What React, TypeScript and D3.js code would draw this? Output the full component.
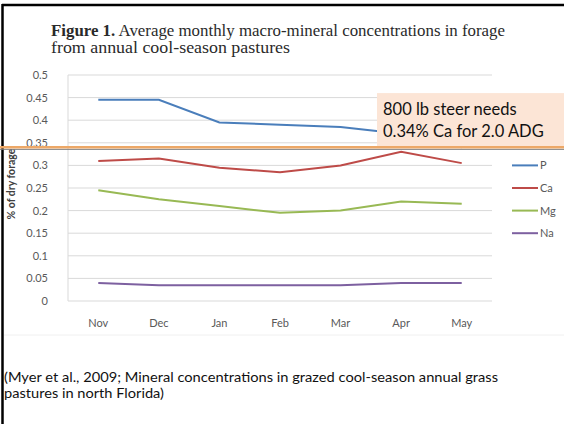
import React from "react";
import * as d3 from "d3";

const months = ["Nov", "Dec", "Jan", "Feb", "Mar", "Apr", "May"];
const pValues = [0.445, 0.445, 0.395, 0.39, 0.385, 0.37, 0.34];
const caValues = [0.31, 0.315, 0.295, 0.285, 0.3, 0.33, 0.305];
const mgValues = [0.245, 0.225, 0.21, 0.195, 0.2, 0.22, 0.215];
const naValues = [0.04, 0.035, 0.035, 0.035, 0.035, 0.04, 0.04];
const seriesNames = ["P", "Ca", "Mg", "Na"];
const seriesColors = ["#4A7EBB", "#BE4B48", "#98B954", "#7D60A0"];
const yTicks = [0, 0.05, 0.1, 0.15, 0.2, 0.25, 0.3, 0.35, 0.4, 0.45, 0.5];
const requirement = 0.34;
const titleBold = "Figure 1.";
const titleRest = " Average monthly macro-mineral  concentrations in forage";
const titleLine2 = "from annual cool-season pastures";
const boxLines = ["800 lb steer needs", "0.34% Ca for 2.0 ADG"];
const citation = [
  "(Myer et al., 2009; Mineral concentrations in grazed cool-season annual grass",
  "pastures in north Florida)",
];

const W = 564;
const H = 424;
const plotLeft = 68;
const plotRight = 492;

export default function App() {
  const series = [pValues, caValues, mgValues, naValues];
  const x = d3.scaleBand<string>().domain(months).range([plotLeft, plotRight]);
  const y = d3.scaleLinear().domain([0, 0.5]).range([301, 75]);
  const cx = (m: string) => (x(m) as number) + x.bandwidth() / 2;
  const line = d3
    .line<number>()
    .x((_, i) => cx(months[i]))
    .y((v) => y(v));
  const sans = "Lato, 'Open Sans', sans-serif";
  const reqY = y(requirement);
  const boxTop = y(0.46);

  return (
    <div style={{ position: "fixed", left: 0, top: 0 }}>
      <svg width={W} height={H} style={{ display: "block", background: "#fff" }}>
        <rect x={0} y={0} width={W} height={H} fill="#fff" />
        {/* frame */}
        <line x1={2} x2={W} y1={5} y2={5} stroke="#000" strokeWidth={2.5} />
        <line x1={2.5} x2={2.5} y1={4} y2={H} stroke="#000" strokeWidth={2.5} />
        {/* faint image edge */}
        <line x1={4} x2={W} y1={335} y2={335} stroke="#f0f0f0" strokeWidth={1} />

        {/* title */}
        <text
          x={51}
          y={36}
          fontFamily="'Liberation Serif', serif"
          fontSize={16}
          fill="#2a2a2a"
          textLength={454}
          lengthAdjust="spacingAndGlyphs"
        >
          <tspan fontWeight="bold">{titleBold}</tspan>
          <tspan>{titleRest}</tspan>
        </text>
        <text
          x={51}
          y={53}
          fontFamily="'Liberation Serif', serif"
          fontSize={16}
          fill="#2a2a2a"
          textLength={239}
          lengthAdjust="spacingAndGlyphs"
        >
          {titleLine2}
        </text>

        {/* gridlines */}
        {yTicks.map((t) => (
          <line key={"g" + t} x1={plotLeft} x2={plotRight} y1={y(t)} y2={y(t)} stroke="#D9D9D9" strokeWidth={1} />
        ))}
        <line x1={plotLeft} x2={plotLeft} y1={y(0)} y2={y(0.5)} stroke="#D9D9D9" strokeWidth={1} />

        {/* y tick labels */}
        {yTicks.map((t) => (
          <text key={"t" + t} x={48} y={y(t) + 4} textAnchor="end" fontFamily={sans} fontSize={11} fill="#595959">
            {d3.format("~g")(t)}
          </text>
        ))}

        {/* x labels */}
        {months.map((m) => (
          <text key={m} x={cx(m)} y={327} textAnchor="middle" fontFamily={sans} fontSize={11} fill="#595959">
            {m}
          </text>
        ))}

        {/* y title */}
        <text
          transform={`translate(15,${184}) rotate(-90)`}
          textAnchor="middle"
          fontFamily={sans}
          fontWeight="bold"
          fontSize={10.5}
          fill="#404040"
        >
          % of dry forage
        </text>

        {/* series */}
        {series.map((s, i) => (
          <path key={seriesNames[i]} d={line(s) || ""} fill="none" stroke={seriesColors[i]} strokeWidth={2} />
        ))}

        {/* legend */}
        {seriesNames.map((n, i) => {
          const ly = y(0.3 - i * 0.05);
          return (
            <g key={"l" + n}>
              <line x1={512} x2={538} y1={ly} y2={ly} stroke={seriesColors[i]} strokeWidth={2} />
              <text x={540} y={ly + 4} fontFamily={sans} fontSize={11} fill="#595959">
                {n}
              </text>
            </g>
          );
        })}

        {/* annotation box */}
        <rect x={377} y={boxTop} width={W - 377} height={reqY - boxTop} fill="#FCE5D6" />
        {boxLines.map((t, i) => (
          <text key={t} x={383} y={boxTop + 22 + i * 22} fontFamily={sans} fontSize={16.5} fill="#111">
            {t}
          </text>
        ))}

        {/* requirement line */}
        <line x1={0} x2={W} y1={reqY + 2} y2={reqY + 2} stroke="#7a7a7a" strokeWidth={1} />
        <line x1={0} x2={W} y1={reqY} y2={reqY} stroke="#EDA867" strokeWidth={2.5} />

        {/* citation */}
        {citation.map((c, i) => (
          <text
            key={c}
            x={4}
            y={382 + i * 15.5}
            fontFamily={sans}
            fontSize={13.5}
            fill="#111"
            textLength={i === 0 ? 494 : 160}
            lengthAdjust="spacingAndGlyphs"
          >
            {c}
          </text>
        ))}
      </svg>
    </div>
  );
}
